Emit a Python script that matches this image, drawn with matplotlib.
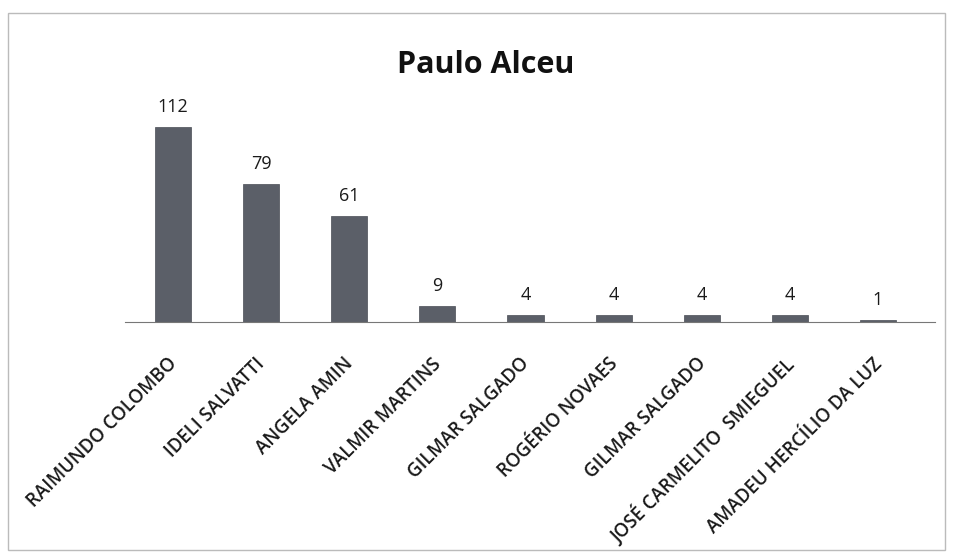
import numpy as np
import matplotlib.pyplot as plt
from matplotlib.patches import Rectangle
import matplotlib.transforms as mtransforms

candidatos = ["RAIMUNDO COLOMBO", "IDELI SALVATTI", "ANGELA AMIN", "VALMIR MARTINS",
              "GILMAR SALGADO", "ROGÉRIO NOVAES", "GILMAR SALGADO",
              "JOSÉ CARMELITO  SMIEGUEL", "AMADEU HERCÍLIO DA LUZ"]
votos = [112, 79, 61, 9, 4, 4, 4, 4, 1]

plt.rcParams['font.family'] = ['Open Sans', 'DejaVu Sans']

fig = plt.figure(figsize=(9.54, 5.6), dpi=100)
fig.patches.append(Rectangle((8 / 954, 10 / 560), 937 / 954, 537 / 560, transform=fig.transFigure,
                             fill=False, edgecolor='#bbbbbb', linewidth=1))

ax = fig.add_axes([129 / 954, 1 - 322 / 560, 793 / 954, 218 / 560])
x = np.arange(len(candidatos))
ax.bar(x, votos, width=0.41, color='#5b5f68', edgecolor='#4a4d55', linewidth=0.5)
ax.set_xlim(-0.5, len(candidatos) - 0.5)
ax.set_ylim(0, 125)

for xi, v in zip(x, votos):
    ax.annotate(str(v), (xi, v), xytext=(0, 8), textcoords='offset points',
                ha='center', va='bottom', fontsize=13, color='#1a1a1a')

for side in ['left', 'right', 'top']:
    ax.spines[side].set_visible(False)
ax.spines['bottom'].set_color('#777777')
ax.spines['bottom'].set_bounds(-0.55, 8.65)
ax.set_yticks([])
ax.set_xticks(x)
ax.tick_params(axis='x', length=0, pad=0)
offset = mtransforms.ScaledTranslation(-6 / 100, -32 / 100, fig.dpi_scale_trans)
ax.set_xticklabels(candidatos, rotation=45, ha='right', va='top', rotation_mode='anchor',
                   fontsize=13.4, fontweight='semibold', color='#1a1a1a')
for lab in ax.get_xticklabels():
    lab.set_transform(lab.get_transform() + offset)

fig.text(486 / 954, 1 - 65 / 560, "Paulo Alceu", ha='center', va='center',
         fontsize=22, fontweight='bold', color='#111111')

fig.savefig('out.png', dpi=100)
